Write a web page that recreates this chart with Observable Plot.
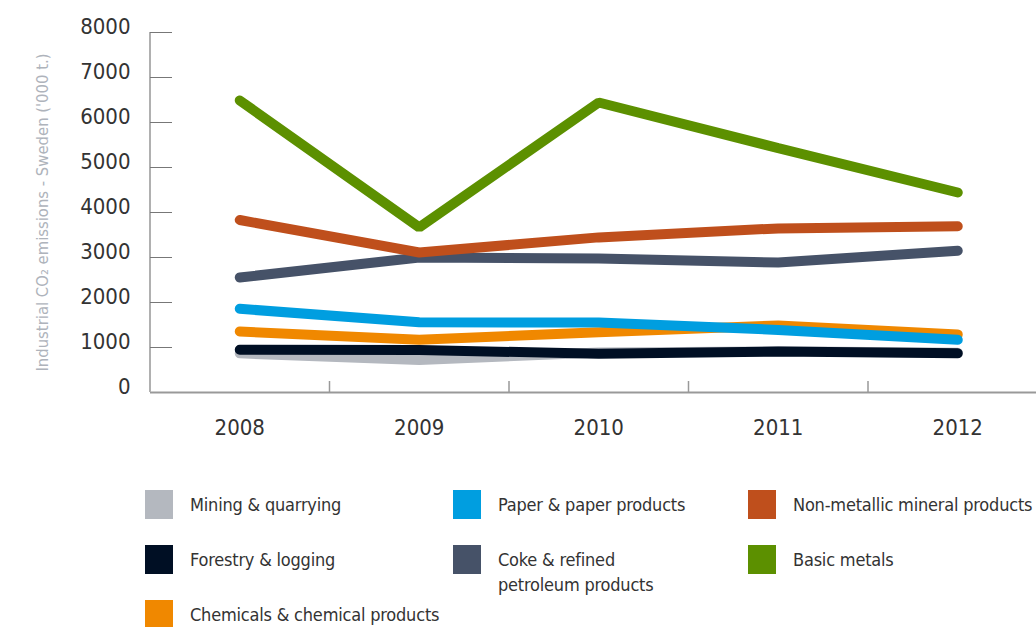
<!DOCTYPE html>
<html><head><meta charset="utf-8">
<script src="https://cdn.jsdelivr.net/npm/d3@7"></script>
<script src="https://cdn.jsdelivr.net/npm/@observablehq/plot@0.6"></script>
<style>
body{margin:0;background:#fff;width:1036px;height:627px;overflow:hidden;font-family:"DejaVu Sans Condensed",sans-serif;}
#legend{display:grid;grid-template-rows:55px 55px 55px;grid-template-columns:308px 295px 290px;padding-left:145px;padding-top:20px;width:1100px;}
.item{display:flex;align-items:flex-start;}
.sw{width:28px;height:29px;flex:none;}
.lab{margin-left:17px;font-size:18px;letter-spacing:-0.2px;line-height:25px;color:#333;white-space:pre;padding-top:2px;}
</style></head><body>
<div id="chart"></div><div id="legend"></div>
<script>
const years = [2008, 2009, 2010, 2011, 2012];
const yTicks = [0, 1000, 2000, 3000, 4000, 5000, 6000, 7000, 8000];
const boundaries = [2008.5, 2009.5, 2010.5, 2011.5];
const yTitle = "Industrial CO\u2082 emissions - Sweden ('000 t.)";

const seriesNames = ["Mining & quarrying", "Forestry & logging", "Chemicals & chemical products", "Paper & paper products", "Coke & refined\npetroleum products", "Non-metallic mineral products", "Basic metals"];
const seriesColors = ["#b4b8bf", "#000f24", "#f08800", "#009ee0", "#465268", "#bf4f1c", "#5c9000"];

const mining      = [870, 720, 890, 915, 885];
const forestry    = [950, 945, 860, 910, 870];
const chemicals   = [1356, 1170, 1340, 1490, 1290];
const paper       = [1860, 1560, 1556, 1390, 1170];
const coke        = [2556, 3000, 2978, 2889, 3150];
const nonMetallic = [3833, 3111, 3447, 3647, 3693];
const basicMetals = [6489, 3670, 6444, 5430, 4444];
const seriesValues = [mining, forestry, chemicals, paper, coke, nonMetallic, basicMetals];

// legend grid placement (row, column) for each series
const legendPlace = [[1,1],[2,1],[3,1],[1,2],[2,2],[1,3],[2,3]];

const font = '"DejaVu Sans Condensed",sans-serif';

const lines = seriesValues.map((vals, k) =>
  Plot.line(years.map((yr, i) => ({year: yr, value: vals[i]})), {
    x: "year", y: "value", stroke: seriesColors[k], strokeWidth: 10,
    strokeLinecap: "round", strokeLinejoin: "miter"
  })
);

const chart = Plot.plot({
  width: 1036, height: 470,
  marginLeft: 150, marginRight: 0, marginTop: 32, marginBottom: 78,
  style: {fontFamily: font, background: "white", overflow: "visible"},
  x: {domain: [2007.5, 2012.5], range: [149.5, 1047]},
  y: {domain: [0, 8000]},
  marks: [
    Plot.ruleY([0], {stroke: "#999", strokeWidth: 2}),
    Plot.ruleX([2007.5], {y1: 0, y2: 8000, stroke: "#b0b0b0", strokeWidth: 2}),
    Plot.ruleY(yTicks.filter(d => d > 0), {stroke: "#777", strokeWidth: 1, insetRight: 1036 - 150 - 22}),
    Plot.ruleX(boundaries, {stroke: "#999", strokeWidth: 1.5, insetTop: 360 - 11}),
    Plot.axisY({ticks: yTicks, tickSize: 0, tickPadding: 20, fontSize: 22, label: null, dy: -6, color: "#333", tickFormat: d => String(d)}),
    Plot.axisX({ticks: years, tickSize: 0, tickPadding: 27, fontSize: 22, label: null, color: "#333", tickFormat: d => String(d)}),
    Plot.text([yTitle], {frameAnchor: "left", textAnchor: "middle", rotate: -90, dx: -108, fontSize: 16.5, fill: "#aeb3bb"}),
    ...lines
  ]
});
document.getElementById("chart").appendChild(chart);

const legend = document.getElementById("legend");
seriesNames.forEach((name, k) => {
  const item = document.createElement("div");
  item.className = "item";
  item.style.gridRow = legendPlace[k][0];
  item.style.gridColumn = legendPlace[k][1];
  const sw = document.createElement("div");
  sw.className = "sw";
  sw.style.background = seriesColors[k];
  const lab = document.createElement("div");
  lab.className = "lab";
  lab.textContent = name;
  item.appendChild(sw); item.appendChild(lab);
  legend.appendChild(item);
});
</script>
</body></html>
